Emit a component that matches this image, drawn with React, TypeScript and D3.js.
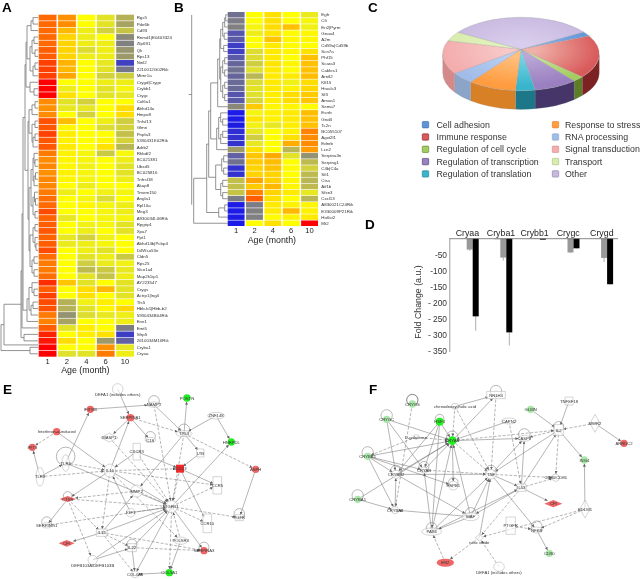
import React from "react";
import * as d3 from "d3";

const width = 640;
const height = 579;

// heatmaps: score runs 0 (blue) .. 5 (yellow) .. 10 (red)
const months = ["1", "2", "4", "6", "10"];
const colorStops = [0, 1, 2, 3, 4, 5, 6, 7, 8, 9, 10];
const colorRange = ["#1a1ae6", "#4a4ab8", "#808080", "#b0ac5c", "#dcdc32", "#ffff00", "#ffd400", "#ffa500", "#ff7a00", "#ff4000", "#ff0000"];

const genesA = ["Rgs5", "Pde6b", "Cd93", "Rnmd1|E0403324", "Zfp691", "Qk", "Rps13", "Ninl2", "2210012G02Rik", "Mtmr1a", "Crygd|Cryge", "Crybb1", "Crygc", "Col6a1", "Abhd14a", "Hmpo8", "Tnfsf13", "Glmn", "Pnpla3", "5330431K02Rik", "Adrb2", "Rhbdf2", "BC021381", "Ubxd5", "BC025816", "Tnfrsf18", "Akap8", "Tmem150", "Angla1", "Rpl10a", "Meg3", "A930034L06Rik", "Rpgrip1", "Xpa7", "Ppt1", "Abhd14b|Pcbp4", "D4Wsu53e", "Cldn5", "Rps25", "Slco1a4", "Map2k1ip1", "AY223547", "Crygs", "Actrp1|Ing4", "Tfs5", "Hbb-b1|Hbb-b2", "5930434B04Rik", "Ene1", "Emt5", "Sfrp5", "2610034M16Rik", "Cryba1", "Cryaa"];
const scoresA = [
  [8.3, 7.5, 5, 4.2, 3.1], [8.3, 7.6, 5, 4.2, 2.8], [8.3, 6.6, 4.5, 3.8, 3.5], [8.3, 6, 4.5, 5, 2.2], [8.3, 6, 4.5, 4.5, 2],
  [8.5, 6, 4, 4.5, 2.5], [8.5, 6, 4.5, 4.5, 2.6], [9, 6.7, 5, 4.3, 0.8], [9, 6.6, 5, 4.2, 1.8], [9, 7, 5, 3.8, 3.7],
  [10, 5, 5, 4.5, 4.5], [10, 4.5, 5, 4.2, 4.7], [10, 5.7, 5, 4.2, 4.3], [7.6, 4.2, 3.8, 5, 5], [7.5, 4.3, 4.3, 5, 5.8],
  [7.6, 5, 3.8, 5, 5.8], [8.7, 6.5, 5, 4.5, 3.7], [8.6, 5.2, 5, 4, 3.8], [9, 5.4, 5, 5, 3.4], [8.6, 5.3, 5, 5.2, 3.8],
  [8.6, 5.5, 5, 5.7, 3.2], [8, 5.3, 4.7, 3.6, 4.8], [7.6, 5.2, 4.7, 5, 4.5], [7.7, 5.2, 4.6, 5, 4.2], [7.5, 5.3, 4.7, 5, 4.2],
  [7.7, 5.2, 4.7, 5, 4.5], [7.7, 5, 4.5, 5, 5], [8, 4.5, 5, 4.6, 4.7], [8.2, 5, 4.7, 4, 5], [8.3, 5, 5.2, 4.7, 4.5],
  [8.8, 5, 5, 4.7, 4.5], [8.4, 4.3, 5, 4.7, 4.7], [8.5, 5, 4.6, 4.7, 4.2], [8.6, 5, 4.5, 5, 4.2], [8.4, 4.3, 3.8, 4.6, 5],
  [8.5, 4.4, 4.5, 4.7, 5], [8.8, 5, 4.5, 4.2, 5], [8.2, 5, 4.2, 4.5, 3.6], [8, 5, 3.7, 4.4, 4.6], [8, 5, 3.3, 3.6, 4.3],
  [8.2, 5, 4.2, 3.5, 4.5], [9.3, 6.3, 4.2, 5, 4.2], [8.5, 5, 5.8, 6.6, 4.2], [9, 5, 5.7, 5, 4.2], [8.8, 3.1, 4.6, 5.4, 5],
  [8.7, 3.1, 4.2, 5.2, 5.9], [8, 2.4, 4, 4.3, 4.5], [7.8, 2.8, 5, 5, 4.5], [8.5, 4.2, 5.4, 5, 1.9], [9.5, 5, 5.4, 5.7, 0.7],
  [9.7, 5.8, 5, 2.6, 1.4], [10, 5, 5, 7.5, 4.3], [10, 4.1, 4.2, 8, 4.5],
];

const genesB = ["Egfr", "Cfi", "Eri2|Pyrm", "Gnao4", "A2m", "Cd59a|Cd59b", "Scn7a", "Phf15", "Scara3", "Cables1", "Arntl2", "Klf15", "Hrasls3", "Sf3", "Amoa1", "Sema7", "Esrrb", "Grid4", "Tc2n", "BC055107", "Agxt2l1", "Ednrb", "Lcn2", "Serpina3n", "Serping1", "C4b|C4a", "Sfi1", "Ctss", "Aif1b", "Sfxn3", "Cxcl13", "A830021C24Rik", "E330009P21Rik", "Ho6st2", "Mt2"];
const scoresB = [
  [1.7, 5, 5.7, 5, 4.4], [1.9, 5, 5.7, 5, 4.7], [2, 4.7, 5.8, 6.4, 4.6], [1.2, 4.5, 5.6, 5.1, 5.2], [1.3, 5, 6.3, 5.2, 5.2],
  [0.7, 5, 5.5, 5.1, 5], [0.8, 4, 5.5, 5.2, 5.7], [1.3, 4, 5.5, 5, 6.4], [1.5, 3.7, 5.6, 5.2, 6.4], [1.7, 4.1, 5.5, 5.1, 6.4],
  [1.5, 3.2, 5.5, 5.5, 6.5], [1.6, 4, 5.5, 4.6, 5.8], [1.6, 4.2, 5.5, 5.3, 5.9], [1.2, 4.1, 5.4, 5.8, 6.2], [1.3, 3.9, 5.4, 5.8, 6.3],
  [2.2, 6.2, 5.2, 5.2, 5], [0, 4.7, 5.3, 5.5, 6.5], [0, 5.6, 5.3, 5.5, 6.4], [0.1, 4.6, 4.3, 5.4, 6.4], [0.4, 4.3, 5, 5.3, 7.8],
  [0.5, 3.7, 5, 5.7, 7.6], [0.5, 4.3, 5, 6.8, 7.6], [2.6, 5.7, 5, 3.2, 7.2], [1.4, 6.3, 6.9, 4.2, 2.4], [1.7, 6.2, 6.5, 5, 3.3],
  [0.5, 6, 6.4, 5.1, 3.8], [0.5, 6, 6, 5, 3.3], [3.4, 7, 6.1, 5.2, 3.2], [3.4, 6.2, 6.6, 5.2, 3.3], [3.5, 7.8, 6, 5.5, 4.3],
  [1.9, 8.5, 5.7, 5, 3.2], [0, 1.9, 5.5, 5.3, 5.2], [0, 2, 5.5, 6.6, 5.3], [0, 2, 5.1, 5.3, 5.5], [0, 5, 5.7, 5, 10],
];

// dendrograms: [height, ...children], a bare number is a row index
type Tree = number | (number | Tree)[];
const topA: Tree = [11, [7, [5, 0, 1], 2], [8, [6, [4, 3, 4], [3, 5, 6]], [5, [3, 7, 8], 9]]];
const crystA: Tree = [8, 10, [4, 11, 12]];
const midA: Tree = [10,
  [9, [6, [3, 13, 14], 15], [6, [3, 16, 17], [5, [3, 18, 19], 20]]],
  [9,
    [7, [5, [4, 21, [3, 22, 23]], [4, [2.5, 24, 25], 26]], [5, [3.5, 27, [2.5, 28, 29]], [3, 30, 31]]],
    [8, [5, [3, 32, 33], [3, 34, [2, 35, 36]]], [6, [4, 37, 38], [4, 39, 40]]],
  ],
];
const lowA: Tree = [11, [9, [6, 41, [4, 42, 43]], [7, [5, 44, 45], 46]], 47];
const treeA: Tree = [37,
  [34, [17, [16, [15, [13, [12, topA, crystA], midA], lowA], 48], [14, 49, 50]], 50.5],
  [8, 51, 52],
];
const upperB: Tree = [17,
  [10, [8, [7, [5, [3, [2, 0, 1], 2], [3.5, 3, 4]], [4, 5, 6]], [7, [5, [3, 7, 8], [3, 9, 10]], [5, [3, 11, 12], [3, 13, 14]]]], 15],
  [11, [9, [7, 16, [5, 17, 18]], [7, [5, 19, 20], 21]], 22],
];
const lowerB: Tree = [12, [6, [4, 23, 24], [4, 25, 26]], [7, [5, 27, 28], [5, 29, 30]]];
const treeB: Tree = [34, [21, [19, upperB, lowerB], [9, [3, 31, 32], 33]], 34];

// pie
const pieLabels = ["Cell adhesion", "Immune response", "Regulation of cell cycle", "Regulation of transcription", "Regulation of translation", "Response to stress", "RNA processing", "Signal transduction", "Transport", "Other"];
const pieValues = [2.1, 18.9, 2.4, 9, 4, 10, 5, 14.8, 4.2, 29.6];
const pieInner = ["#8cb4e8", "#f0b0a8", "#cde69a", "#bba8d8", "#78d4e4", "#ffc080", "#bcd0f2", "#f8c8c8", "#e4f2c0", "#d8cdec"];
const pieOuter = ["#5f94d8", "#d85a5a", "#a4cc60", "#9a80c0", "#38b4cc", "#ff9c40", "#a0bce8", "#f4acac", "#d8ecac", "#c8b8e0"];
const pieSides = ["#3c66a0", "#7c2222", "#5c7c28", "#443468", "#1c7888", "#d88028", "#8ca4c8", "#d48a8a", "#a4bc78", "#8878a8"];

// fold change bars
const crystallins = ["Cryaa", "Cryba1", "Crybb1", "Crygc", "Crygd"];
const barSeries = ["early", "mid", "late"];
const earlyFold = [-1, -2, -1, -1, -1];
const midFold = [-34, -59, -1, -43, -60];
const lateFold = [-242, -292, -3, -30, -142];
const midErr = [-38, -68, -1, -45, -73];
const lateErr = [-287, -333, -4, -31, -143];
const foldTicks = [-50, -100, -150, -200, -250, -300, -350];
const foldTickLabels = ["-50", "-100", "-150", "- 200", "- 250", "- 300", "- 350"];

// networks, layout numbers are in units of a 3x crop of each panel
const RED = "#ee6666";
const GREEN = "#22ee22";
const PALE = "#a8e6a8";
type NetNode = { id: string; x: number; y: number; shape?: string; w?: number; h?: number; fill?: string; loop?: number; lx?: number; ly?: number };
const nodesE: NetNode[] = [
  { id: "DEFA1 (includes others)", x: 353, y: 42, w: 16, h: 16, ly: 16 },
  { id: "IFITM3", x: 271, y: 103, w: 11, h: 11, fill: RED },
  { id: "NAMPT", x: 462, y: 89, w: 20, h: 8, loop: 16 },
  { id: "POSTN", x: 561, y: 69, w: 11, h: 11, fill: GREEN },
  { id: "SERPINA1", x: 391, y: 128, w: 12, h: 11, fill: RED, loop: 0 },
  { id: "ZNF148", x: 648, y: 122, w: 25, h: 10 },
  { id: "TP53", x: 552, y: 176, w: 24, h: 9, loop: 17 },
  { id: "Interferon-α-induced", x: 170, y: 170, w: 11, h: 11, fill: RED },
  { id: "IFIT3", x: 97, y: 217, w: 11, h: 11, fill: RED },
  { id: "MASP1", x: 328, y: 188, shape: "d", w: 26, h: 13 },
  { id: "C1S", x: 451, y: 195, w: 16, h: 8, loop: 15 },
  { id: "HNRPDL", x: 694, y: 201, w: 11, h: 11, fill: GREEN },
  { id: "CXCR3", x: 410, y: 230, shape: "r", w: 11, h: 25 },
  { id: "LTB", x: 601, y: 234, shape: "r", w: 11, h: 12 },
  { id: "TLR4", x: 197, y: 264, w: 11, h: 25, loop: 28 },
  { id: "TLR9", x: 120, y: 305, w: 12, h: 28 },
  { id: "IL10", x: 330, y: 287, w: 17, h: 20, loop: 0 },
  { id: "CCL13", x: 540, y: 281, shape: "r", w: 12, h: 12, fill: "#ee2a2a" },
  { id: "ASPH", x: 767, y: 283, w: 11, h: 11, fill: RED },
  { id: "CCR5", x: 652, y: 331, shape: "r", w: 13, h: 26 },
  { id: "MMP2", x: 410, y: 348, w: 18, h: 18 },
  { id: "CTSS", x: 203, y: 372, shape: "d", w: 24, h: 9, fill: RED, loop: 13 },
  { id: "TGFB1", x: 515, y: 395, w: 18, h: 18, loop: 0 },
  { id: "IGF1", x: 392, y: 413, w: 13, h: 13 },
  { id: "CCR10", x: 622, y: 445, shape: "r", w: 13, h: 28 },
  { id: "PGFR", x: 718, y: 428, shape: "r", w: 12, h: 9, loop: 16 },
  { id: "SERPING1", x: 140, y: 451, w: 14, h: 8, loop: 15 },
  { id: "IL15", x: 305, y: 473, shape: "r", w: 16, h: 11 },
  { id: "IL22", x: 396, y: 518, shape: "r", w: 13, h: 12, loop: 15 },
  { id: "POLSR3", x: 542, y: 497, w: 20, h: 11 },
  { id: "SERPINA3", x: 612, y: 527, w: 11, h: 11, fill: RED, loop: 15 },
  { id: "CFI", x: 200, y: 505, shape: "d", w: 24, h: 10, fill: RED },
  { id: "DEFB103A/DEFB103B", x: 278, y: 555, w: 14, h: 14, ly: 16 },
  { id: "COL4A3", x: 405, y: 598, w: 12, h: 10 },
  { id: "COL5A1", x: 508, y: 593, w: 11, h: 11, fill: GREEN },
];
// source, target, "d" when dashed
const edgesE: string[][] = [
  ["IFITM3", "NAMPT"], ["TLR4", "IFITM3"], ["DEFA1 (includes others)", "SERPINA1"], ["NAMPT", "TP53"], ["NAMPT", "TGFB1", "d"], ["TP53", "POSTN"], ["ZNF148", "TP53"], ["ZNF148", "HNRPDL"],
  ["SERPINA1", "TP53", "d"], ["SERPINA1", "MASP1"], ["SERPINA1", "C1S"], ["IL10", "SERPINA1"], ["TP53", "TGFB1", "d"], ["TP53", "LTB"], ["TP53", "ASPH", "d"], ["TP53", "MMP2"], ["LTB", "CCL13"],
  ["MASP1", "TGFB1", "d"], ["Interferon-α-induced", "IFIT3", "d"], ["Interferon-α-induced", "IL10"], ["TLR9", "IFIT3"], ["TLR9", "TLR4"], ["TLR9", "IL10", "d"], ["TLR4", "IL10", "d"], ["TLR4", "TGFB1"],
  ["CXCR3", "IL10"], ["CXCR3", "CCL13"], ["CXCR3", "TGFB1", "d"], ["IL10", "CCL13", "d"], ["IL10", "CCR5", "d"], ["IL10", "TGFB1"], ["IL10", "CTSS"], ["IL10", "IL15", "d"], ["IL10", "POLSR3", "d"],
  ["CCL13", "CCR5"], ["CCL13", "TGFB1", "d"], ["CCL13", "CCR10"], ["TGFB1", "HNRPDL"], ["TGFB1", "CCR5", "d"], ["TGFB1", "CCR10", "d"], ["TGFB1", "PGFR", "d"], ["ASPH", "PGFR"], ["MMP2", "TGFB1", "d"],
  ["MMP2", "CTSS", "d"], ["IL15", "MMP2"], ["CTSS", "TGFB1", "d"], ["CTSS", "SERPING1"], ["CTSS", "IL15", "d"], ["CTSS", "DEFB103A/DEFB103B", "d"], ["SERPING1", "TGFB1", "d"], ["IL15", "TGFB1"],
  ["IL15", "IL22", "d"], ["IL15", "SERPINA3", "d"], ["IL15", "COL4A3", "d"], ["IL15", "CFI"], ["IGF1", "TGFB1"], ["IGF1", "IL10"], ["IL22", "TGFB1"], ["IL22", "SERPINA3", "d"], ["DEFB103A/DEFB103B", "IL22"],
  ["IL22", "COL4A3"], ["POLSR3", "TGFB1", "d"], ["TGFB1", "SERPINA3"], ["TGFB1", "COL5A1", "d"], ["TGFB1", "COL4A3"], ["COL5A1", "COL4A3"], ["POLSR3", "COL5A1"], ["DEFB103A/DEFB103B", "TGFB1"],
];
const nodesF: NetNode[] = [
  { id: "CRYGS", x: 277, y: 87, w: 11, h: 11, fill: PALE, loop: 17 },
  { id: "NR1H4", x: 528, y: 60, shape: "r", w: 28, h: 11, loop: 17 },
  { id: "chenodeoxycholic acid", x: 405, y: 94, w: 11, h: 9 },
  { id: "TNFSF18", x: 747, y: 78, shape: "r", w: 12, h: 12 },
  { id: "GLMN", x: 632, y: 103, w: 11, h: 11, fill: PALE },
  { id: "CRYGC", x: 200, y: 133, w: 11, h: 11, fill: PALE, loop: 17 },
  { id: "HSF4", x: 359, y: 140, w: 12, h: 12, fill: GREEN, loop: 13 },
  { id: "CAPN2", x: 567, y: 138, w: 22, h: 9 },
  { id: "D-galactose", x: 288, y: 186, w: 9, h: 7 },
  { id: "CRYAA", x: 397, y: 197, w: 13, h: 13, fill: GREEN, loop: 17 },
  { id: "CASP8", x: 613, y: 190, w: 18, h: 9, loop: 17 },
  { id: "IL2", x: 716, y: 165, shape: "r", w: 14, h: 16, loop: 15 },
  { id: "MWR2", x: 825, y: 145, shape: "d", w: 15, h: 27 },
  { id: "ARRDC2", x: 912, y: 205, w: 11, h: 11, fill: RED },
  { id: "CRYBB1", x: 143, y: 244, w: 11, h: 11, fill: PALE, loop: 17 },
  { id: "ING4", x: 793, y: 255, w: 11, h: 11, fill: PALE },
  { id: "CRYBB2", x: 228, y: 298, w: 14, h: 12, loop: 16 },
  { id: "CRYAB", x: 312, y: 285, w: 11, h: 9, loop: 15 },
  { id: "TNF", x: 513, y: 298, w: 16, h: 14, loop: 16 },
  { id: "HSPB1", x: 400, y: 332, w: 14, h: 13, loop: 14 },
  { id: "CD80/CD86", x: 707, y: 308, w: 11, h: 11 },
  { id: "IL13", x: 604, y: 338, shape: "r", w: 14, h: 11 },
  { id: "CFI", x: 700, y: 386, shape: "d", w: 27, h: 11, fill: RED },
  { id: "CRYBA1", x: 113, y: 373, w: 11, h: 11, fill: PALE, loop: 17 },
  { id: "CRYBA4", x: 225, y: 405, w: 11, h: 11 },
  { id: "MAF", x: 452, y: 425, w: 25, h: 12, loop: 16 },
  { id: "EDLM1", x: 795, y: 402, shape: "d", w: 15, h: 27 },
  { id: "PTGFR", x: 572, y: 452, shape: "r", w: 14, h: 26 },
  { id: "PAX6", x: 335, y: 470, w: 30, h: 11, loop: 16 },
  { id: "NFKB", x: 650, y: 465, w: 18, h: 9, loop: 16 },
  { id: "nitric oxide", x: 478, y: 488, shape: "d", w: 12, h: 10, ly: 13 },
  { id: "CD90", x: 688, y: 535, w: 11, h: 11, fill: PALE },
  { id: "EN2", x: 376, y: 563, w: 26, h: 12, fill: RED },
  { id: "DEFA1 (includes others)", x: 537, y: 575, w: 16, h: 14, ly: 18 },
];
const edgesF: string[][] = [
  ["CRYGS", "CRYBA4", "d"], ["chenodeoxycholic acid", "NR1H4"], ["chenodeoxycholic acid", "CRYAA", "d"], ["CRYAA", "NR1H4"], ["NR1H4", "TNF", "d"], ["chenodeoxycholic acid", "TNF", "d"], ["TNFSF18", "IL2"], ["GLMN", "IL2"],
  ["MWR2", "IL2", "d"], ["MWR2", "ARRDC2"], ["CRYGC", "CRYAA"], ["CRYGC", "CRYBB2"], ["CRYGC", "CRYAB"], ["HSF4", "CRYAA"], ["HSF4", "CRYBB2"], ["HSF4", "CRYAB"], ["HSF4", "PAX6"], ["CAPN2", "CRYAA"], ["CAPN2", "IL13", "d"],
  ["D-galactose", "CRYAA", "d"], ["D-galactose", "CRYBB1", "d"], ["CRYBB1", "CRYAA"], ["CRYBB2", "CRYAA"], ["CRYAB", "CRYAA"], ["CRYBA1", "CRYAA"], ["CRYAA", "TNF", "d"], ["CRYAA", "HSPB1"], ["PAX6", "CRYAA"], ["MAF", "CRYAA"],
  ["CRYAA", "IL2", "d"], ["CRYAA", "CASP8"], ["TNF", "CASP8"], ["IL2", "TNF"], ["IL13", "IL2"], ["IL2", "ING4"], ["IL2", "CD80/CD86", "d"], ["IL2", "CASP8", "d"], ["CRYBB1", "CRYAB"], ["CRYBB1", "CRYBB2"], ["CRYBB1", "CRYBA4"],
  ["CRYBB1", "HSPB1"], ["CRYBB2", "TNF"], ["CRYAB", "TNF", "d"], ["PAX6", "CRYAB"], ["CRYBB2", "MAF"], ["TNF", "CD80/CD86", "d"], ["TNF", "IL13"], ["PAX6", "TNF"], ["MAF", "TNF"], ["nitric oxide", "TNF"], ["TNF", "NFKB"], ["IL13", "CFI"],
  ["IL13", "CASP8"], ["IL13", "MAF"], ["IL13", "nitric oxide", "d"], ["IL13", "CD80/CD86", "d"], ["PAX6", "IL13"], ["CRYBA1", "CRYBA4"], ["MAF", "CRYBA4"], ["CRYBA4", "CRYBB2"], ["MAF", "PAX6"], ["EN2", "PAX6", "d"], ["EDLM1", "ING4"],
  ["EDLM1", "NFKB", "d"], ["PTGFR", "NFKB", "d"], ["NFKB", "CD90"], ["nitric oxide", "EN2", "d"], ["DEFA1 (includes others)", "nitric oxide", "d"], ["EDLM1", "nitric oxide", "d"],
];

const heatColor = d3.scaleLinear<string>().domain(colorStops).range(colorRange);

const Heatmap = ({ genes, scores, tree, x0, x1, y0, y1, treeLeft, treeRight, treeMax, labelX, monthY, titleY }: any) => {
  const xBand = d3.scaleBand().domain(months).range([x0, x1]).paddingInner(0.08);
  const yBand = d3.scaleBand().domain(d3.range(genes.length).map(String)).range([y0, y1]).paddingInner(0.1);
  const xTree = d3.scaleLinear().domain([0, treeMax]).range([treeRight, treeLeft]);
  const rowY = (r: number) => yBand(String(Math.floor(r)))! + yBand.bandwidth() * (r % 1 ? 1.2 : 0.5);

  const root = d3.hierarchy<Tree>(tree, (d) => (Array.isArray(d) ? (d.slice(1) as Tree[]) : null));
  const segments: string[] = [];
  root.eachAfter((n: any) => {
    if (!n.children) {
      n.py = rowY(n.data as number);
      n.px = xTree(0);
      return;
    }
    n.px = xTree((n.data as any[])[0]);
    n.py = (n.children[0].py + n.children[n.children.length - 1].py) / 2;
    const path = d3.path();
    path.moveTo(n.children[0].px, n.children[0].py);
    path.lineTo(n.px, n.children[0].py);
    path.lineTo(n.px, n.children[n.children.length - 1].py);
    path.lineTo(n.children[n.children.length - 1].px, n.children[n.children.length - 1].py);
    segments.push(path.toString());
  });

  return (
    <g>
      {segments.map((d, i) => (
        <path key={i} d={d} fill="none" stroke="#777" strokeWidth={0.8} />
      ))}
      {scores.map((row: number[], r: number) =>
        row.map((v, c) => (
          <rect key={`${r}-${c}`} x={xBand(months[c])} y={yBand(String(r))} width={xBand.bandwidth()} height={yBand.bandwidth()} fill={heatColor(v)} />
        ))
      )}
      {genes.map((g: string, r: number) => (
        <text key={g} x={labelX} y={rowY(r) + 1.6} fontSize={4.4} fill="#333">
          {g}
        </text>
      ))}
      {months.map((m) => (
        <text key={m} x={xBand(m)! + xBand.bandwidth() / 2} y={monthY} textAnchor="middle" fontSize={7.6} fill="#222">
          {m}
        </text>
      ))}
      <text x={(x0 + x1) / 2 - 1} y={titleY} textAnchor="middle" fontSize={8.8} fill="#222">
        Age (month)
      </text>
    </g>
  );
};

const Pie = () => {
  const cx = 521;
  const cy = 54;
  const rx = 78.3;
  const ry = 36.7;
  const depth = 18.7;
  const apexY = 49.3;
  const start = (53 * Math.PI) / 180;
  const arcs = d3.pie<number>().sort(null).startAngle(start).endAngle(start + 2 * Math.PI)(pieValues);
  const rim = (a: number, dy = 0) => [cx + rx * Math.sin(a), cy - ry * Math.cos(a) + dy];
  return (
    <g>
      <defs>
        {arcs.map((a, i) => (
          <radialGradient
            key={i}
            id={`pie${i}`}
            gradientUnits="userSpaceOnUse"
            cx={cx}
            cy={apexY}
            r={rx}
            gradientTransform={`translate(${cx},${apexY}) scale(1,${ry / rx}) translate(${-cx},${-apexY})`}
          >
            <stop offset="0.2" stopColor={pieInner[i]} />
            <stop offset="1" stopColor={pieOuter[i]} />
          </radialGradient>
        ))}
      </defs>
      {arcs.map((a, i) => {
        const a0 = Math.max(a.startAngle, Math.PI / 2);
        const a1 = Math.min(a.endAngle, (3 * Math.PI) / 2);
        if (a1 <= a0) return null;
        const [x0, y0] = rim(a0);
        const [x1, y1] = rim(a1);
        const d = `M${x0},${y0}A${rx},${ry} 0 0 1 ${x1},${y1}L${x1},${y1 + depth}A${rx},${ry} 0 0 0 ${x0},${y0 + depth}Z`;
        return <path key={i} d={d} fill={pieSides[i]} stroke="#8a8a8a" strokeWidth={0.2} />;
      })}
      {arcs.map((a, i) => {
        const [x0, y0] = rim(a.startAngle);
        const [x1, y1] = rim(a.endAngle);
        const large = a.endAngle - a.startAngle > Math.PI ? 1 : 0;
        const d = `M${cx},${apexY}L${x0},${y0}A${rx},${ry} 0 ${large} 1 ${x1},${y1}Z`;
        return <path key={i} d={d} fill={`url(#pie${i})`} stroke="#999" strokeWidth={0.3} />;
      })}
      {pieLabels.map((label, i) => {
        const col = i < 5 ? 0 : 1;
        const row = i % 5;
        const x = col ? 555.5 : 425.5;
        const y = 124.7 + row * 12.3;
        return (
          <g key={label}>
            <rect x={x - 3.2} y={y - 3.2} width={6.4} height={6.4} rx={0.8} fill={pieOuter[i]} stroke={pieSides[i]} strokeWidth={0.6} />
            <text x={col ? x + 9.5 : x + 11} y={y + 3} fontSize={8.8} fill="#333">
              {label}
            </text>
          </g>
        );
      })}
    </g>
  );
};

const Bars = () => {
  const y = d3.scaleLinear().domain([0, -350]).range([238.7, 351]);
  const x = d3.scaleBand().domain(crystallins).range([452.9, 620.9]);
  const inner = d3.scaleBand().domain(barSeries).range([-9, 9]);
  const fills = ["#bbbbbb", "#999999", "#000000"];
  const series = [earlyFold, midFold, lateFold];
  const errs = [earlyFold, midErr, lateErr];
  return (
    <g>
      {crystallins.map((c, i) => {
        const cx = x(c)! + x.bandwidth() / 2;
        return (
          <g key={c}>
            <text x={cx - 2.3} y={236} textAnchor="middle" fontSize={8.8} fill="#222">
              {c}
            </text>
            {series.map((s, k) => {
              const bx = cx + inner(barSeries[k])!;
              return (
                <g key={k}>
                  <line x1={bx + 3} x2={bx + 3} y1={y(s[i])} y2={y(errs[k][i])} stroke="#777" strokeWidth={0.6} />
                  <rect x={bx} y={y(0)} width={inner.bandwidth()} height={y(s[i]) - y(0)} fill={fills[k]} />
                </g>
              );
            })}
          </g>
        );
      })}
      <line x1={449.3} x2={618} y1={y(0)} y2={y(0)} stroke="#555" strokeWidth={0.7} />
      <line x1={449.8} x2={449.8} y1={y(0)} y2={y(-350) + 1} stroke="#777" strokeWidth={0.7} />
      {foldTicks.map((t, i) => (
        <text key={t} x={447} y={y(t) + 3} textAnchor="end" fontSize={8.4} fill="#333">
          {foldTickLabels[i]}
        </text>
      ))}
      <text transform="translate(421,302) rotate(-90)" textAnchor="middle" fontSize={8.8} fill="#333">
        Fold Change (a.u.)
      </text>
    </g>
  );
};

const nodePath = (n: NetNode, sx: any, sy: any) => {
  const x = sx(n.x);
  const y = sy(n.y);
  const w = (n.w! * 1) / 3;
  const h = (n.h! * 1) / 3;
  if (n.shape === "r") return `M${x - w},${y - h}h${2 * w}v${2 * h}h${-2 * w}Z`;
  if (n.shape === "d") return `M${x - w},${y}L${x},${y - h}L${x + w},${y}L${x},${y + h}Z`;
  return `M${x - w},${y}a${w},${h} 0 1 0 ${2 * w},0a${w},${h} 0 1 0 ${-2 * w},0Z`;
};

const Network = ({ nodes, edges, sx, sy, markerId }: any) => {
  const byId = new Map<string, NetNode>(nodes.map((n: NetNode) => [n.id, n]));
  return (
    <g>
      <defs>
        <marker id={markerId} viewBox="0 0 6 6" refX={6} refY={3} markerWidth={3} markerHeight={3} orient="auto" markerUnits="userSpaceOnUse">
          <path d="M0,0L6,3L0,6Z" fill="#666" />
        </marker>
      </defs>
      {edges.map((e: string[], i: number) => {
        const a = byId.get(e[0])!;
        const b = byId.get(e[1])!;
        const x1 = sx(a.x);
        const y1 = sy(a.y);
        const x2 = sx(b.x);
        const y2 = sy(b.y);
        const dx = x2 - x1;
        const dy = y2 - y1;
        const k = 1 / Math.hypot(dx / (b.w! / 3), dy / (b.h! / 3));
        return (
          <line
            key={i}
            x1={x1}
            y1={y1}
            x2={x2 - dx * k}
            y2={y2 - dy * k}
            stroke="#777"
            strokeWidth={0.55}
            strokeDasharray={e[2] === "d" ? "3 1.6" : undefined}
            markerEnd={`url(#${markerId})`}
          />
        );
      })}
      {nodes.map((n: NetNode) => (
        <g key={n.id}>
          {n.loop ? (
            <circle cx={sx(n.x)} cy={sy(n.y) - (n.loop * 0.7) / 3} r={n.loop / 3} fill="none" stroke={n.id === "CRYGS" ? "#333" : "#888"} strokeWidth={0.6} />
          ) : null}
          <path d={nodePath(n, sx, sy)} fill={n.fill || "#fff"} fillOpacity={n.fill ? 1 : 0.6} stroke={n.fill ? "none" : "#aaa"} strokeWidth={0.5} />
          <text x={sx(n.x)} y={sy(n.y) + (n.ly || 0) / 3 + 1.5} textAnchor="middle" fontSize={4.2} fill="#333">
            {n.id}
          </text>
        </g>
      ))}
    </g>
  );
};

const panelLetters = ["A", "B", "C", "D", "E", "F"];
const letterX = [2, 174, 368, 365, 3, 369];
const letterY = [12, 12, 12, 229, 394, 394];

export default function App() {
  const xE = d3.scaleLinear().domain([0, 930]).range([0, 310]);
  const yE = d3.scaleLinear().domain([0, 612]).range([375, 579]);
  const xF = d3.scaleLinear().domain([0, 960]).range([320, 640]);
  const yF = d3.scaleLinear().domain([0, 612]).range([375, 579]);
  const xRootB = d3.scaleLinear().domain([0, 36]).range([227.7, 191.7]);
  const yRootB = d3.scaleLinear().domain([0, 34]).range([15, 223]);

  return (
    <svg
      width={width}
      height={height}
      style={{ position: "absolute", left: 0, top: 0, background: "#fff" }}
      fontFamily="'Liberation Sans', Arial, sans-serif"
    >
      <defs>
        <filter id="soft" x="0" y="0" width={width} height={height} filterUnits="userSpaceOnUse">
          <feGaussianBlur stdDeviation={0.35} />
        </filter>
      </defs>
      <g filter="url(#soft)">
        {panelLetters.map((l, i) => (
          <text key={l} x={letterX[i]} y={letterY[i]} fontSize={13.5} fontWeight="bold" fill="#000">
            {l}
          </text>
        ))}
        <Heatmap genes={genesA} scores={scoresA} tree={treeA} x0={38.7} x1={134} y0={14.7} y1={356.7} treeLeft={0} treeRight={38} treeMax={38} labelX={136.7} monthY={363.5} titleY={373} />
        <Heatmap genes={genesB} scores={scoresB} tree={treeB} x0={227.7} x1={318} y0={12} y1={226} treeLeft={193.7} treeRight={227.7} treeMax={34} labelX={321.3} monthY={233} titleY={243} />
        <line x1={xRootB(36)} x2={xRootB(36)} y1={yRootB(0)} y2={yRootB(31)} stroke="#777" strokeWidth={0.8} />
        <line x1={xRootB(36) - 3} x2={xRootB(36)} y1={yRootB(13)} y2={yRootB(13)} stroke="#777" strokeWidth={0.8} />
        <Pie />
        <Bars />
        <Network nodes={nodesE} edges={edgesE} sx={xE} sy={yE} markerId="arrowE" />
        <Network nodes={nodesF} edges={edgesF} sx={xF} sy={yF} markerId="arrowF" />
      </g>
    </svg>
  );
}
